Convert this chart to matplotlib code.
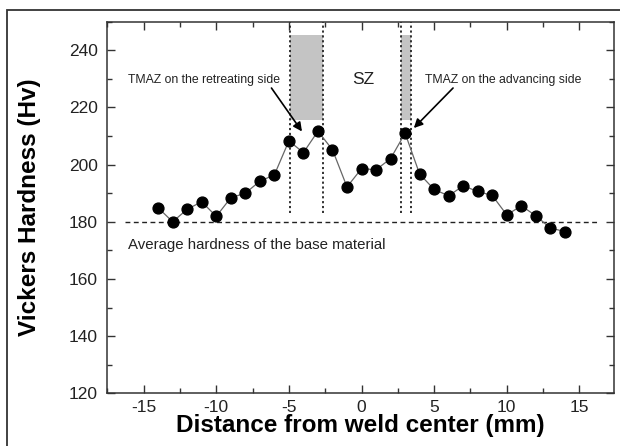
import matplotlib
matplotlib.use("Agg")
import matplotlib.pyplot as plt
from matplotlib.patches import Rectangle
from matplotlib.ticker import MultipleLocator

plt.rcParams['font.family'] = ['Liberation Sans', 'DejaVu Sans']
plt.rcParams['axes.unicode_minus'] = False

# Data
distance = [-14, -13, -12, -11, -10, -9, -8, -7, -6, -5, -4, -3, -2, -1, 0,
            1, 2, 3, 4, 5, 6, 7, 8, 9, 10, 11, 12, 13, 14]
hardness = [184.9, 180.0, 184.4, 187.0, 181.9, 188.4, 190.0, 194.2, 196.4,
            208.3, 204.2, 211.7, 205.2, 192.2, 198.6, 198.2, 202.1, 211.0,
            196.7, 191.3, 189.1, 192.6, 190.6, 189.2, 182.4, 185.6, 182.1,
            177.8, 176.6]
base_hardness = 180
zone_bounds = [-4.9, -2.67, 2.74, 3.39]
tmaz_left = (-4.9, -2.67)
tmaz_right = (2.74, 3.39)
shade_y = (215.5, 245.5)
xticks = [-15, -10, -5, 0, 5, 10, 15]
yticks = [120, 140, 160, 180, 200, 220, 240]

fig = plt.figure(figsize=(6.2, 4.46), dpi=100)
ax = fig.add_axes([107.3/620, 1-393.3/446, (614.3-107.3)/620, (393.3-21.7)/446])

# outer frame
frame = Rectangle((6.5/620, -0.05), 1.1, 1.05 - 10.5/446,
                  transform=fig.transFigure, fill=False, lw=1.3,
                  edgecolor='#333333', clip_on=False)
fig.patches.append(frame)

# shaded TMAZ boxes
for lo, hi in (tmaz_left, tmaz_right):
    ax.add_patch(Rectangle((lo, shade_y[0]), hi - lo, shade_y[1] - shade_y[0],
                           facecolor='#c4c4c4', edgecolor='none', zorder=1))

# dotted zone boundaries
for xb in zone_bounds:
    ax.plot([xb, xb], [183, 250], ls=(0, (1.2, 1.5)), color='#222222', lw=1.3, zorder=2)

# base hardness dashed
ax.plot([-16.3, 16.3], [base_hardness, base_hardness], ls=(0, (3.5, 2.5)),
        color='#222222', lw=1.0, zorder=2)

# data
ax.plot(distance, hardness, color='#666666', lw=0.9, zorder=3)
ax.plot(distance, hardness, 'o', color='black', ms=7.8, zorder=4, ls='none')

ax.set_xlim(-17.5, 17.4)
ax.set_ylim(120, 250)
ax.set_xticks(xticks)
ax.set_yticks(yticks)
ax.xaxis.set_minor_locator(MultipleLocator(2.5))
ax.yaxis.set_minor_locator(MultipleLocator(10))
ax.tick_params(which='both', direction='in', top=True, right=True,
               color='#333333', width=1.0)
ax.tick_params(which='major', length=6, labelsize=12.5, pad=5, labelcolor='#222222')
ax.tick_params(axis='y', which='major', pad=7)
ax.tick_params(which='minor', length=3.5)
for s in ax.spines.values():
    s.set_color('#333333')
    s.set_linewidth(1.1)

ax.set_xlabel('Distance from weld center (mm)', fontsize=17.5, fontweight='bold', labelpad=-1)
ax.set_ylabel('Vickers Hardness (Hv)', fontsize=17.5, fontweight='bold', labelpad=20)

# annotations
ax.text(-16.1, 229.5, 'TMAZ on the retreating side', fontsize=8.8, color='#222222',
        va='center', ha='left')
ax.text(4.35, 229.5, 'TMAZ on the advancing side', fontsize=8.8, color='#222222',
        va='center', ha='left')
ax.text(0.1, 229.8, 'SZ', fontsize=12.5, color='#222222', va='center', ha='center')
ax.text(-16.1, 171.8, 'Average hardness of the base material', fontsize=10.8,
        color='#222222', va='center', ha='left')

ax.annotate('', xy=(-4.1, 211.6), xytext=(-6.2, 226.8),
            arrowprops=dict(arrowstyle='-|>', color='black', lw=1.2, mutation_scale=13,
                            shrinkA=0, shrinkB=0))
ax.annotate('', xy=(3.6, 212.8), xytext=(6.3, 226.8),
            arrowprops=dict(arrowstyle='-|>', color='black', lw=1.2, mutation_scale=13,
                            shrinkA=0, shrinkB=0))

fig.savefig('out.png', dpi=100)
